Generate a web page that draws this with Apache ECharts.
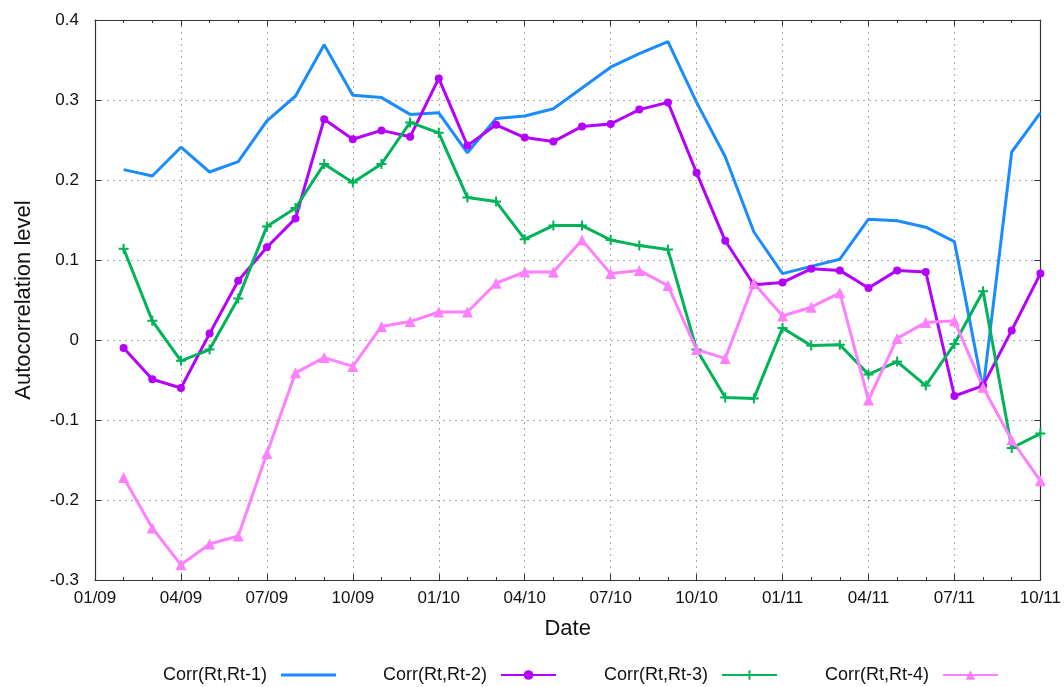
<!DOCTYPE html>
<html>
<head>
<meta charset="utf-8">
<script src="https://cdn.jsdelivr.net/npm/echarts@6/dist/echarts.min.js"></script>
<style>
html,body{margin:0;padding:0;background:#fff;}
#chart{width:1064px;height:687px;}
</style>
</head>
<body>
<div id="chart"></div>
<script>
// Monthly observation dates (x position = months since 01/09)
const months = ['02/09','03/09','04/09','05/09','06/09','07/09','08/09','09/09','10/09','11/09','12/09',
  '01/10','02/10','03/10','04/10','05/10','06/10','07/10','08/10','09/10','10/10','11/10','12/10',
  '01/11','02/11','03/11','04/11','05/11','06/11','07/11','08/11','09/11','10/11'];
const xTickLabels = ['01/09','04/09','07/09','10/09','01/10','04/10','07/10','10/10','01/11','04/11','07/11','10/11'];
const yTickLabels = ['-0.3','-0.2','-0.1','0','0.1','0.2','0.3','0.4'];

const corr1 = [0.213,0.205,0.241,0.210,0.223,0.274,0.305,0.369,0.306,0.303,0.282,
  0.284,0.234,0.277,0.280,0.289,0.315,0.341,0.358,0.373,0.297,0.229,0.135,
  0.083,0.092,0.101,0.151,0.149,0.141,0.123,-0.062,0.235,0.284];
const corr2 = [-0.010,-0.049,-0.060,0.008,0.074,0.116,0.152,0.276,0.251,0.262,0.254,
  0.327,0.243,0.269,0.253,0.248,0.267,0.270,0.288,0.297,0.209,0.124,0.069,
  0.072,0.089,0.087,0.065,0.087,0.085,-0.070,-0.057,0.012,0.083];
const corr3 = [0.114,0.024,-0.026,-0.012,0.052,0.142,0.165,0.220,0.197,0.220,0.272,
  0.259,0.178,0.173,0.126,0.143,0.143,0.125,0.118,0.113,-0.012,-0.072,-0.073,
  0.015,-0.007,-0.006,-0.043,-0.027,-0.057,-0.005,0.061,-0.135,-0.117];
const corr4 = [-0.172,-0.235,-0.281,-0.255,-0.245,-0.142,-0.041,-0.022,-0.033,0.017,0.023,
  0.035,0.035,0.071,0.085,0.085,0.125,0.083,0.087,0.068,-0.012,-0.023,0.071,
  0.030,0.041,0.059,-0.075,0.002,0.022,0.024,-0.059,-0.125,-0.176];

const seriesNames = ['Corr(Rt,Rt-1)','Corr(Rt,Rt-2)','Corr(Rt,Rt-3)','Corr(Rt,Rt-4)'];
const colors = ['#1a8cff','#b400ff','#00b359','#ff80ff'];

// x value = months elapsed since 01/09 (first observation 02/09 -> 1)
function toPoints(arr){ return arr.map((v,i)=>[i+1, v]); }

const FONT = 'Liberation Sans, Arial, sans-serif';
const plusPath = 'path://M-1,-5L1,-5L1,-1L5,-1L5,1L1,1L1,5L-1,5L-1,1L-5,1L-5,-1L-1,-1Z';
const lineIcon = 'path://M0,0L55,0L55,3L0,3Z';

const chart = echarts.init(document.getElementById('chart'), null, {renderer:'canvas'});

const axisLine = {show:true, onZero:false, lineStyle:{color:'#333', width:1.2}};
const xCommon = {
  type:'value', min:0, max:33, interval:3,
  axisLine: axisLine,
  axisTick:{show:true, inside:true, length:6, lineStyle:{color:'#333'}},
  minorTick:{show:true, splitNumber:3, length:3, lineStyle:{color:'#333'}},
};

chart.setOption({
  animation:false,
  backgroundColor:'#fff',
  textStyle:{fontFamily:FONT},
  grid:{left:95, right:23, top:20, bottom:107, containLabel:false},
  legend:{
    data: [
      {name:seriesNames[0], icon:lineIcon},
      {name:seriesNames[1]},
      {name:seriesNames[2]},
      {name:seriesNames[3]}
    ],
    left:158, top:661,
    align:'right',
    itemWidth:55, itemHeight:12, itemGap:47,
    textStyle:{fontSize:18, color:'#111', fontFamily:FONT, padding:[0,9,0,0]}
  },
  xAxis:[
    Object.assign({}, xCommon, {
      position:'bottom',
      name:'Date', nameLocation:'middle', nameGap:38,
      nameTextStyle:{fontSize:22, color:'#111', fontFamily:FONT},
      axisLabel:{fontSize:17, color:'#111', margin:10, fontFamily:FONT,
        formatter:(v)=> xTickLabels[Math.round(v/3)]},
      splitLine:{show:true, lineStyle:{color:'#aaa', type:[2,4], width:1}},
      minorSplitLine:{show:false}
    }),
    Object.assign({}, xCommon, {
      position:'top',
      axisLabel:{show:false},
      splitLine:{show:false}
    })
  ],
  yAxis:[
    {
      type:'value', min:-0.3, max:0.4, interval:0.1, position:'left',
      name:'Autocorrelation level', nameLocation:'middle', nameGap:60,
      nameTextStyle:{fontSize:22, color:'#111', fontFamily:FONT},
      axisLine: axisLine,
      axisTick:{show:true, inside:true, length:6, lineStyle:{color:'#333'}},
      axisLabel:{fontSize:17, color:'#111', margin:16, fontFamily:FONT,
        formatter:(v)=> yTickLabels[Math.round((v+0.3)*10)]},
      splitLine:{show:true, lineStyle:{color:'#aaa', type:[2,4], width:1}}
    },
    {
      type:'value', min:-0.3, max:0.4, interval:0.1, position:'right',
      axisLine: axisLine,
      axisTick:{show:true, inside:true, length:6, lineStyle:{color:'#333'}},
      axisLabel:{show:false},
      splitLine:{show:false}
    }
  ],
  series:[
    {name:seriesNames[0], type:'line', data:toPoints(corr1), color:colors[0],
     symbol:'none', lineStyle:{width:3}},
    {name:seriesNames[1], type:'line', data:toPoints(corr2), color:colors[1],
     symbol:'circle', symbolSize:8, lineStyle:{width:3}},
    {name:seriesNames[2], type:'line', data:toPoints(corr3), color:colors[2],
     symbol:plusPath, symbolSize:10, lineStyle:{width:3}},
    {name:seriesNames[3], type:'line', data:toPoints(corr4), color:colors[3],
     symbol:'triangle', symbolSize:11, lineStyle:{width:3}}
  ]
});
</script>
</body>
</html>
